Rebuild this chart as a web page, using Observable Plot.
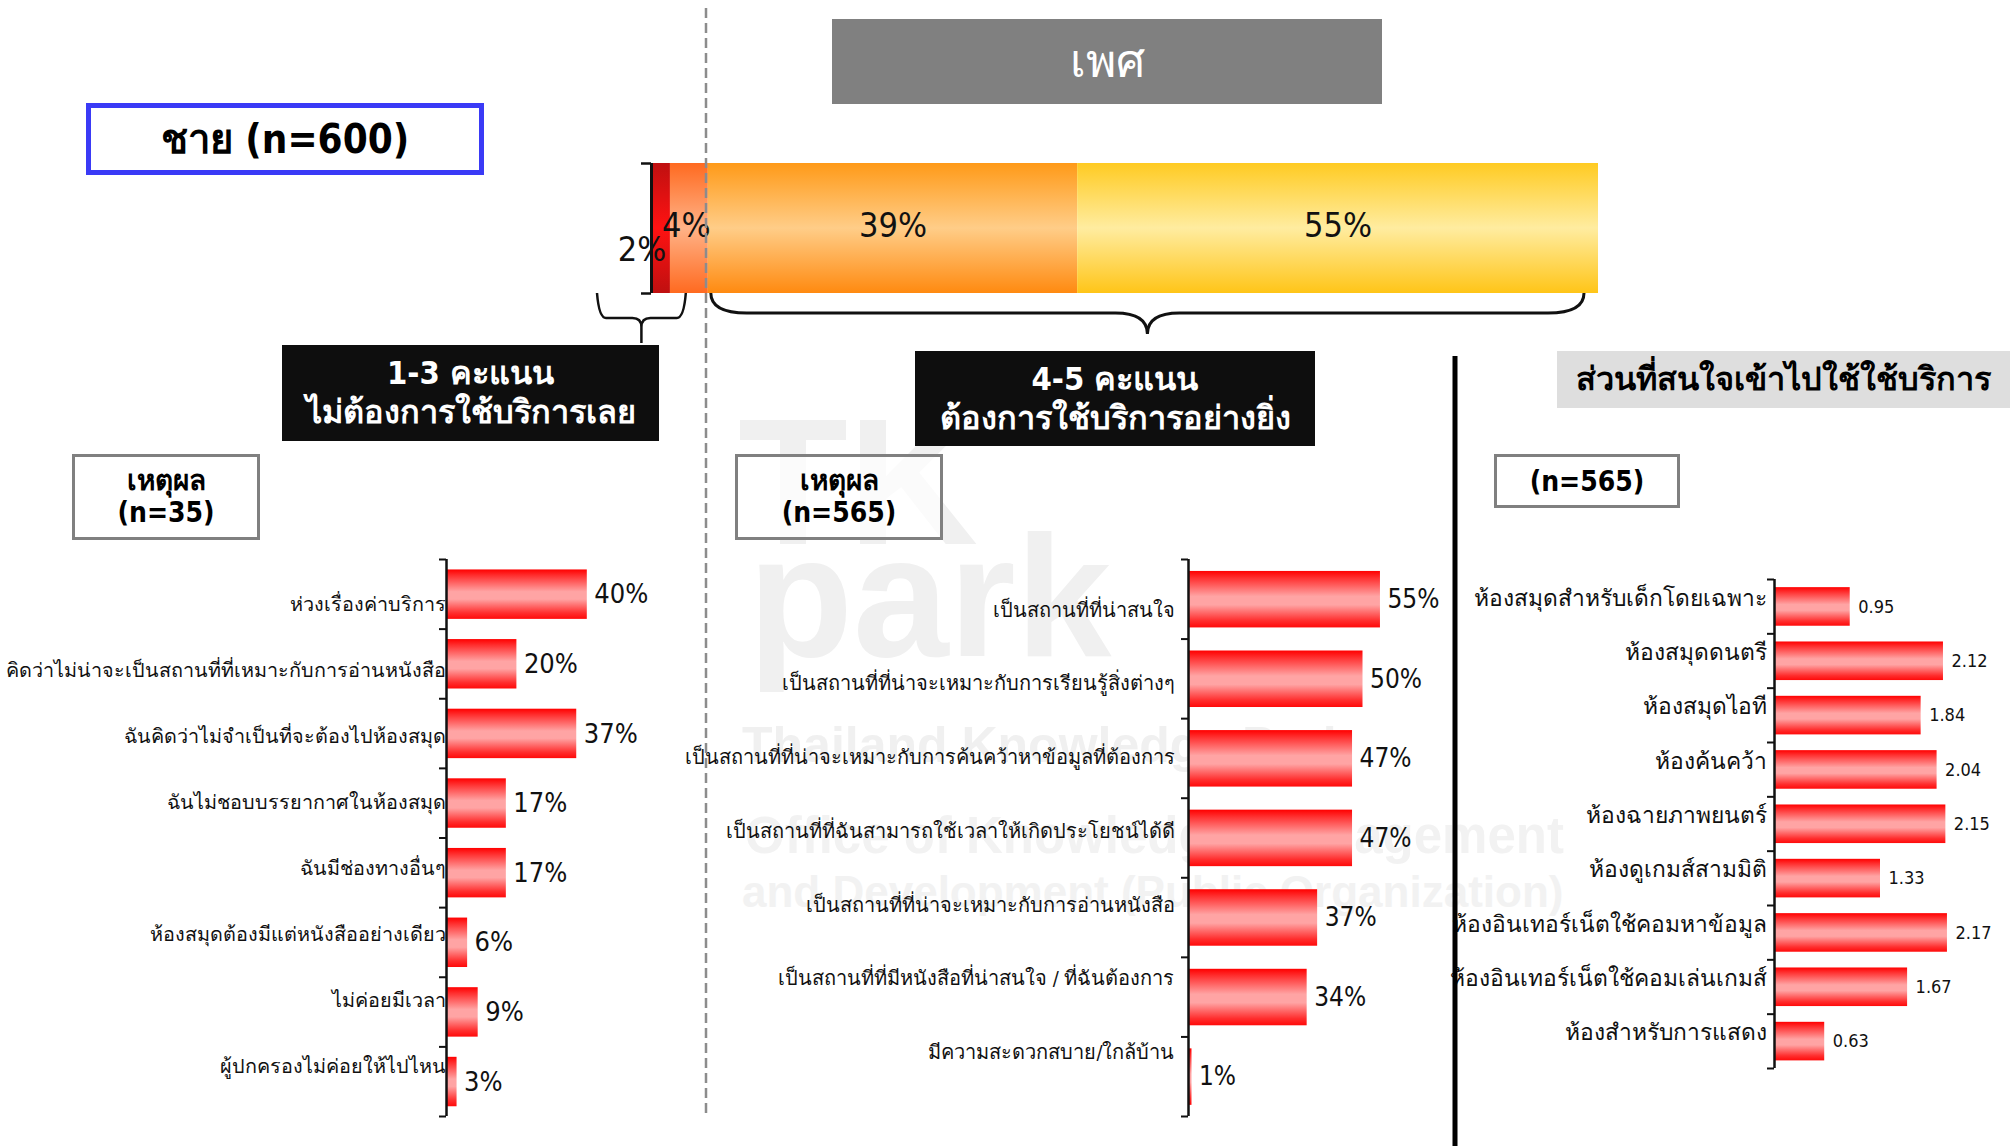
<!DOCTYPE html>
<html><head><meta charset="utf-8">
<script src="https://cdn.jsdelivr.net/npm/d3@7"></script>
<script src="https://cdn.jsdelivr.net/npm/@observablehq/plot@0.6"></script>
<style>
body{margin:0;background:#fff;}
#page{position:relative;width:2010px;height:1146px;overflow:hidden;background:#fff;font-family:Tahoma,"DejaVu Sans Condensed","DejaVu Sans",sans-serif;}
.box{position:absolute;box-sizing:border-box;display:flex;flex-direction:column;align-items:center;justify-content:center;text-align:center;font-weight:bold;line-height:1.25;}
.wm{position:absolute;white-space:nowrap;font-family:"Liberation Sans",Arial,sans-serif;font-weight:bold;color:#f0f0f0;line-height:1;}
</style></head><body>
<svg width="0" height="0" style="position:absolute">
<defs>
<linearGradient id="barRed" x1="0" y1="0" x2="0" y2="1">
<stop offset="0" stop-color="#ff0000"/><stop offset="0.12" stop-color="#ff2e2e"/>
<stop offset="0.45" stop-color="#ffa4a4"/><stop offset="0.6" stop-color="#ffa4a4"/>
<stop offset="0.88" stop-color="#ff2e2e"/><stop offset="1" stop-color="#ff0a0a"/>
</linearGradient>
<linearGradient id="g0" x1="0" y1="0" x2="0" y2="1"><stop offset="0" stop-color="#bf1010"/><stop offset="0.5" stop-color="#ff1212"/><stop offset="1" stop-color="#bf1010"/></linearGradient>
<linearGradient id="g1" x1="0" y1="0" x2="0" y2="1"><stop offset="0" stop-color="#ff6a20"/><stop offset="0.5" stop-color="#ffb287"/><stop offset="1" stop-color="#ff6a20"/></linearGradient>
<linearGradient id="g2" x1="0" y1="0" x2="0" y2="1"><stop offset="0" stop-color="#ff9a18"/><stop offset="0.5" stop-color="#ffcd88"/><stop offset="1" stop-color="#ff8a10"/></linearGradient>
<linearGradient id="g3" x1="0" y1="0" x2="0" y2="1"><stop offset="0" stop-color="#ffcb22"/><stop offset="0.5" stop-color="#ffeca0"/><stop offset="1" stop-color="#ffc518"/></linearGradient>
</defs></svg>
<div id="page"></div>
<script>
// ---------- DATA ----------
const scoreGroups = ["1 คะแนน", "2-3 คะแนน", "4 คะแนน", "5 คะแนน"];
const scoreValues = [2, 4, 39, 55];

const reasonsNo = [
  "ห่วงเรื่องค่าบริการ",
  "คิดว่าไม่น่าจะเป็นสถานที่ที่เหมาะกับการอ่านหนังสือ",
  "ฉันคิดว่าไม่จำเป็นที่จะต้องไปห้องสมุด",
  "ฉันไม่ชอบบรรยากาศในห้องสมุด",
  "ฉันมีช่องทางอื่นๆ",
  "ห้องสมุดต้องมีแต่หนังสืออย่างเดียว",
  "ไม่ค่อยมีเวลา",
  "ผู้ปกครองไม่ค่อยให้ไปไหน"
];
const reasonsNoValues = [40, 20, 37, 17, 17, 6, 9, 3];

const reasonsYes = [
  "เป็นสถานที่ที่น่าสนใจ",
  "เป็นสถานที่ที่น่าจะเหมาะกับการเรียนรู้สิ่งต่างๆ",
  "เป็นสถานที่ที่น่าจะเหมาะกับการค้นคว้าหาข้อมูลที่ต้องการ",
  "เป็นสถานที่ที่ฉันสามารถใช้เวลาให้เกิดประโยชน์ได้ดี",
  "เป็นสถานที่ที่น่าจะเหมาะกับการอ่านหนังสือ",
  "เป็นสถานที่ที่มีหนังสือที่น่าสนใจ / ที่ฉันต้องการ",
  "มีความสะดวกสบาย/ใกล้บ้าน"
];
const reasonsYesValues = [55, 50, 47, 47, 37, 34, 1];

const services = [
  "ห้องสมุดสำหรับเด็กโดยเฉพาะ",
  "ห้องสมุดดนตรี",
  "ห้องสมุดไอที",
  "ห้องค้นคว้า",
  "ห้องฉายภาพยนตร์",
  "ห้องดูเกมส์สามมิติ",
  "ห้องอินเทอร์เน็ตใช้คอมหาข้อมูล",
  "ห้องอินเทอร์เน็ตใช้คอมเล่นเกมส์",
  "ห้องสำหรับการแสดง"
];
const serviceValues = [0.95, 2.12, 1.84, 2.04, 2.15, 1.33, 2.17, 1.67, 0.63];

// ---------- LAYOUT ----------
const FONT = 'Tahoma,"DejaVu Sans Condensed","DejaVu Sans",sans-serif';
const page = document.getElementById("page");
function place(el, left, top) {
  el.style.position = "absolute";
  el.style.left = left + "px";
  el.style.top = top + "px";
  page.appendChild(el);
  return el;
}
function box(html, left, top, w, h, style) {
  const d = document.createElement("div");
  d.className = "box";
  d.innerHTML = html;
  Object.assign(d.style, {width: w + "px", height: h + "px"}, style || {});
  return place(d, left, top);
}
function wm(text, left, top, size, color) {
  const d = document.createElement("div");
  d.className = "wm";
  d.textContent = text;
  d.style.fontSize = size + "px";
  if (color) d.style.color = color;
  return place(d, left, top);
}

// faint logo watermark (background)
wm("TK", 738, 392, 180);
wm("park", 748, 510, 172);
wm("Thailand Knowledge Park", 742, 720, 50);
wm("Office of Knowledge Management", 745, 810, 51, "#f2f2f2");
wm("and Development (Public Organization)", 742, 870, 44, "#f2f2f2");

// header boxes
box("เพศ", 832, 19, 550, 85, {background: "#808080", color: "#fff", fontWeight: "normal", fontSize: "46px"});
box("ชาย (n=600)", 86, 103, 398, 72, {border: "5px solid #3a3af6", background: "#fff", fontSize: "40px", color: "#000"});
box("1-3 คะแนน<br>ไม่ต้องการใช้บริการเลย", 282, 345, 377, 96, {background: "#0e0e0e", color: "#fff", fontSize: "32.5px", lineHeight: "1.2"});
box("4-5 คะแนน<br>ต้องการใช้บริการอย่างยิ่ง", 915, 351, 400, 95, {background: "#0e0e0e", color: "#fff", fontSize: "32.5px", lineHeight: "1.2"});
box("ส่วนที่สนใจเข้าไปใช้ใช้บริการ", 1557, 351, 453, 57, {background: "#dedede", color: "#000", fontSize: "32.5px"});
box('<span style="font-size:28px">เหตุผล</span><span style="font-size:28px">(n=35)</span>', 72, 454, 188, 86, {border: "3px solid #808080", background: "#fff", color: "#000", lineHeight: "1.15"});
box('<span style="font-size:28px">เหตุผล</span><span style="font-size:28px">(n=565)</span>', 735, 454, 208, 86, {border: "3px solid #808080", background: "rgba(255,255,255,0.7)", color: "#000", lineHeight: "1.15"});
box("(n=565)", 1494, 454, 186, 54, {border: "3px solid #808080", background: "#fff", color: "#000", fontSize: "28px"});

// ---------- STACKED BAR ----------
let acc = 0;
const stackData = scoreGroups.map((g, i) => {
  const d = {group: g, value: scoreValues[i], x1: acc, x2: acc + scoreValues[i]};
  acc += scoreValues[i];
  return d;
});
const stackW = 1020, stackML = 51, stackMR = 22;
const pxPerPct = (stackW - stackML - stackMR) / 100;
const stack = Plot.plot({
  width: stackW, height: 180,
  marginLeft: stackML, marginRight: stackMR, marginTop: 23, marginBottom: 27,
  style: {fontFamily: FONT, background: "transparent", overflow: "visible", color: "#111"},
  x: {domain: [0, 100], axis: null},
  y: {domain: [0, 1], reverse: true, axis: null},
  color: {domain: scoreGroups, range: ["url(#g0)", "url(#g1)", "url(#g2)", "url(#g3)"]},
  marks: [
    Plot.rect(stackData, {x1: "x1", x2: "x2", y1: 0, y2: 1, fill: "group"}),
    Plot.ruleX([0], {y1: 0, y2: 1, stroke: "#111", strokeWidth: 3}),
    Plot.ruleY([0, 1], {y: d => d, x1: -10 / pxPerPct, x2: 0, stroke: "#111", strokeWidth: 2.5}),
    Plot.text(stackData.filter(d => d.value > 4), {x: d => (d.x1 + d.x2) / 2, y: 0.5, text: d => d.value + "%", fontSize: 34, dy: -2, fill: "#111"}),
    Plot.text(stackData.filter(d => d.value > 3 && d.value <= 4), {x: d => (d.x1 + d.x2) / 2, y: 0.5, text: d => d.value + "%", fontSize: 34, dx: -3, dy: -2, fill: "#111"}),
    Plot.text(stackData.filter(d => d.value <= 3), {x: d => (d.x1 + d.x2) / 2, y: 0.5, text: d => d.value + "%", fontSize: 34, dx: -19, dy: 22, fill: "#111"})
  ]
});
place(stack, 600, 140);

// braces, derived from the stacked bar's x scale
(function () {
  const xs = stack.scale("x");
  const svg = d3.select(stack);
  const yTop = 293 - 140;
  {
    const x0 = xs.apply(6) + 3, x1 = xs.apply(100) - 14, xm = (x0 + x1) / 2;
    const ym = yTop + 20, yt = yTop + 41, r = 36, r2 = 32;
    svg.append("path").attr("fill", "none").attr("stroke", "#111").attr("stroke-width", 3)
      .attr("d", `M${x0},${yTop} Q${x0},${ym} ${x0 + r},${ym} L${xm - r2},${ym} Q${xm},${ym} ${xm},${yt} Q${xm},${ym} ${xm + r2},${ym} L${x1 - r},${ym} Q${x1},${ym} ${x1},${yTop}`);
  }
  {
    const x0 = xs.apply(0) - 54, x1 = xs.apply(6) - 22, xm = (x0 + x1) / 2;
    const ym = yTop + 25, yt = yTop + 50, r = 9;
    svg.append("path").attr("fill", "none").attr("stroke", "#111").attr("stroke-width", 2.5)
      .attr("d", `M${x0},${yTop} Q${x0 + 2},${ym} ${x0 + r},${ym} L${xm - r},${ym} Q${xm},${ym} ${xm},${ym + r} L${xm},${yt} M${xm},${ym + r} Q${xm},${ym} ${xm + r},${ym} L${x1 - r},${ym} Q${x1 - 2},${ym} ${x1},${yTop}`);
  }
})();

// ---------- HORIZONTAL BAR PANELS ----------
function barPanel(cfg) {
  const n = cfg.labels.length;
  const data = cfg.labels.map((label, i) => ({label, value: cfg.values[i], i}));
  const plotW = cfg.width - cfg.marginLeft - cfg.marginRight;
  const chart = Plot.plot({
    width: cfg.width, height: cfg.height,
    marginLeft: cfg.marginLeft, marginRight: cfg.marginRight,
    marginTop: cfg.marginTop, marginBottom: cfg.marginBottom,
    style: {fontFamily: FONT, background: "transparent", overflow: "visible", color: "#111"},
    x: {domain: [0, plotW / cfg.pxPerUnit], axis: null},
    y: {domain: [0, n], reverse: true, axis: null},
    marks: [
      Plot.rect(data, {x1: 0, x2: "value", y1: d => d.i + 0.15, y2: d => d.i + 0.86, fill: "url(#barRed)"}),
      Plot.ruleX([0], {y1: 0, y2: n, stroke: "#111", strokeWidth: 2.5}),
      Plot.ruleY(d3.range(n + 1), {y: d => d, x1: -7 / cfg.pxPerUnit, x2: 0, stroke: "#111", strokeWidth: 2}),
      Plot.text(data, {x: 0, y: d => cfg.labelY(d.i), text: "label", textAnchor: "end", dx: cfg.labelDx, fontSize: cfg.labelSize, fill: "#111"}),
      Plot.text(data, {x: "value", y: d => d.i + 0.505, text: d => cfg.fmt(d.value), textAnchor: "start", dx: cfg.valueDx, fontSize: cfg.valueSize, fill: "#111"})
    ]
  });
  return place(chart, cfg.left, cfg.top);
}

barPanel({
  labels: reasonsNo, values: reasonsNoValues,
  left: 0, top: 540, width: 700, height: 600,
  marginLeft: 446, marginRight: 40, marginTop: 19, marginBottom: 24,
  pxPerUnit: 3.52, labelY: i => 0.655 + i * 0.947, labelDx: -1,
  labelSize: 19.8, valueSize: 27, valueDx: 7, fmt: v => v + "%"
});
barPanel({
  labels: reasonsYes, values: reasonsYesValues,
  left: 680, top: 540, width: 780, height: 600,
  marginLeft: 508, marginRight: 40, marginTop: 19, marginBottom: 24,
  pxPerUnit: 3.49, labelY: i => 0.636 + i * 0.927, labelDx: -14,
  labelSize: 20, valueSize: 26, valueDx: 7, fmt: v => v + "%"
});
barPanel({
  labels: services, values: serviceValues,
  left: 1460, top: 540, width: 550, height: 600,
  marginLeft: 314, marginRight: 20, marginTop: 39, marginBottom: 72,
  pxPerUnit: 79.7, labelY: i => i + 0.35, labelDx: -8,
  labelSize: 22.8, valueSize: 18, valueDx: 8, fmt: v => v.toFixed(2)
});

// ---------- OVERLAY LINES ----------
const ov = d3.create("svg").attr("width", 2010).attr("height", 1146).style("pointer-events", "none");
ov.append("line").attr("x1", 706).attr("x2", 706).attr("y1", 8).attr("y2", 1118)
  .attr("stroke", "#8c8c8c").attr("stroke-width", 2.5).attr("stroke-dasharray", "10,5");
ov.append("line").attr("x1", 1455).attr("x2", 1455).attr("y1", 356).attr("y2", 1146)
  .attr("stroke", "#000").attr("stroke-width", 5);
place(ov.node(), 0, 0);
</script>
</body></html>
